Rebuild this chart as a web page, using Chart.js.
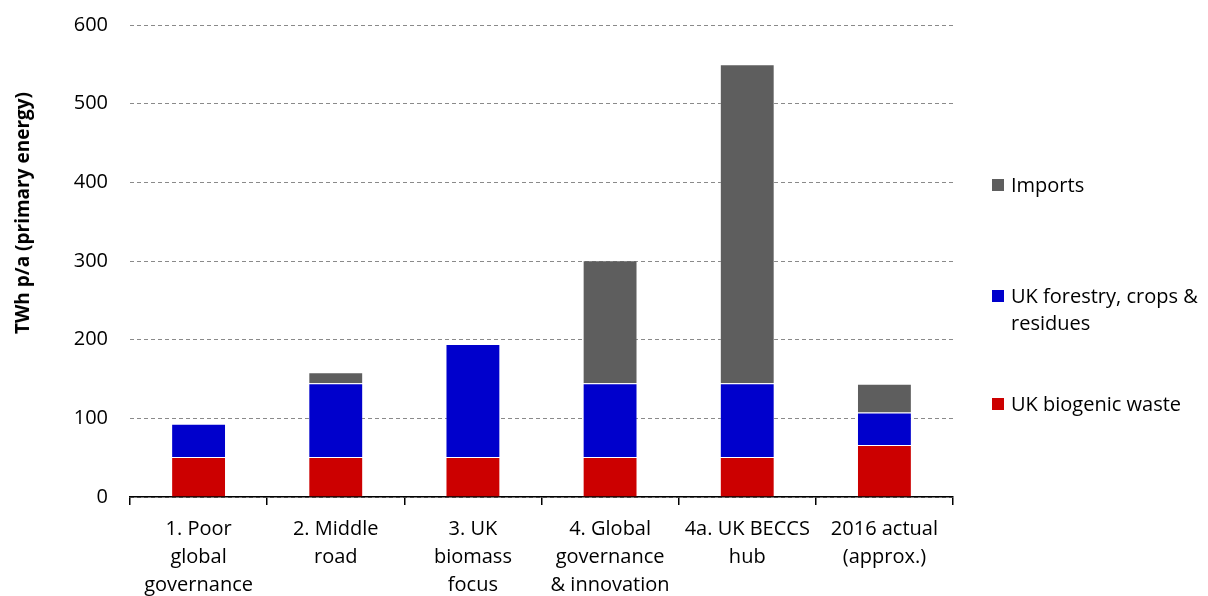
<!DOCTYPE html>
<html>
<head>
<meta charset="utf-8">
<script src="https://cdn.jsdelivr.net/npm/chart.js@4/dist/chart.umd.min.js"></script>
<style>
  html, body { margin: 0; padding: 0; background: #fff; }
  #wrap { position: relative; width: 1208px; height: 596px; overflow: hidden; font-family: "Open Sans", sans-serif; }
  canvas { position: absolute; left: 0; top: 0; }
  #ytitle { position: absolute; left: 22px; top: 213px; transform: translate(-50%, -50%) rotate(-90deg); white-space: nowrap; font-weight: bold; font-size: 19px; color: #000; }
  .leg { position: absolute; left: 992px; font-size: 20px; line-height: 27px; color: #000; }
  .leg .sw { position: absolute; left: 0; top: 8px; width: 12px; height: 12px; }
  .leg .tx { position: absolute; left: 19px; top: 0; white-space: nowrap; }
</style>
</head>
<body>
<div id="wrap">
  <canvas id="c" width="1208" height="596"></canvas>
  <div id="ytitle">TWh p/a (primary energy)</div>
  <div class="leg" style="top:171px;"><div class="sw" style="background:#5e5e5e"></div><div class="tx">Imports</div></div>
  <div class="leg" style="top:282px;"><div class="sw" style="background:#0000cc"></div><div class="tx">UK forestry, crops &amp;<br>residues</div></div>
  <div class="leg" style="top:390px;"><div class="sw" style="background:#cc0000"></div><div class="tx">UK biogenic waste</div></div>
</div>
<script>
const categories = [
  ["1. Poor", "global", "governance"],
  ["2. Middle", "road"],
  ["3. UK", "biomass", "focus"],
  ["4. Global", "governance", "& innovation"],
  ["4a. UK BECCS", "hub"],
  ["2016 actual", "(approx.)"]
];
const seriesNames = ["UK biogenic waste", "UK forestry, crops & residues", "Imports"];
const biogenicWaste = [51, 51, 51, 51, 51, 66];
const forestryCrops = [42, 93.5, 143.5, 93.5, 93.5, 41.5];
const imports = [0, 14, 0, 156.5, 405.5, 36.5];
const yTicks = [0, 100, 200, 300, 400, 500, 600];

const colors = ["#cc0000", "#0000cc", "#5e5e5e"];
const font = { family: "'Open Sans', sans-serif", size: 20 };

new Chart(document.getElementById("c"), {
  type: "bar",
  data: {
    labels: categories,
    datasets: [biogenicWaste, forestryCrops, imports].map((d, i) => ({
      label: seriesNames[i],
      data: d,
      backgroundColor: colors[i],
      borderColor: "rgba(255,255,255,0.2)",
      borderWidth: 1,
      barPercentage: 0.4,
      categoryPercentage: 1
    }))
  },
  options: {
    responsive: false,
    animation: false,
    layout: { padding: { top: 25, right: 255, left: 0, bottom: 0 } },
    plugins: { legend: { display: false }, tooltip: { enabled: false } },
    scales: {
      x: {
        stacked: true,
        offset: true,
        afterFit: s => { s.height = 99; s.paddingLeft = 0; s.paddingRight = 0; },
        grid: { offset: true, drawOnChartArea: false, drawTicks: true, tickLength: 8, color: "#000", lineWidth: 1.5 },
        border: { display: true, color: "#000", width: 1.5 },
        ticks: { color: "#000", font: { ...font, lineHeight: 1.4 }, padding: 10, maxRotation: 0, autoSkip: false }
      },
      y: {
        stacked: true,
        min: yTicks[0],
        max: yTicks[yTicks.length - 1],
        afterFit: s => { s.width = 130; s.paddingTop = 0; s.paddingBottom = 0; },
        afterBuildTicks: s => { s.ticks = yTicks.map(v => ({ value: v })); },
        grid: { color: "#8a8a8a", lineWidth: 1, drawTicks: false },
        border: { display: false, dash: [4, 3] },
        ticks: { color: "#000", font: font, padding: 22 }
      }
    }
  }
});
</script>
</body>
</html>
